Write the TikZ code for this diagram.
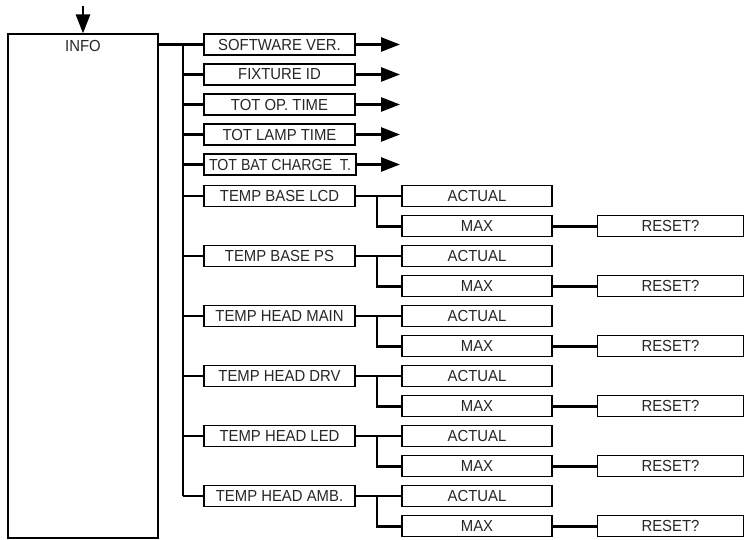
\documentclass[tikz,border=0pt]{standalone}
\usepackage{fontspec}
\setmainfont[FakeStretch=0.93]{Liberation Sans}
\newfontfamily\narrowfont[FakeStretch=0.885]{Liberation Sans}
\usetikzlibrary{arrows.meta}
\begin{document}
\begin{tikzpicture}[x=1pt,y=-1pt,
  box/.style={draw, line width=1.1pt, minimum width=151pt, minimum height=21pt, inner sep=0pt,
    font=\fontsize{16}{16}\selectfont, text=black!85},
  rbox/.style={box, minimum width=146pt},
  conn/.style={line width=2.6pt},
  arr/.style={line width=2.6pt, -{Triangle[length=19pt,width=14pt]}}]
\useasboundingbox (0,0) rectangle (744,540);
% INFO box
\node[draw, line width=1.1pt, minimum width=150pt, minimum height=504pt, inner sep=0pt] (info) at (83,286) {};
\node[font=\fontsize{16}{16}\selectfont, text=black!85, inner sep=0pt] (infolabel) at (83,45.5) {INFO};
\coordinate (top) at (83,6);
\draw[arr] (top) -- (info.north);
% helper coordinates
\coordinate (tr) at (183,0);
\coordinate (tipx) at (400,0);
\coordinate (br) at (377,0);
% simple items
\foreach \n/\y/\t in {s1/44.5/SOFTWARE VER., s2/74.5/FIXTURE ID, s3/104.5/TOT OP. TIME, s4/134.5/TOT LAMP TIME}{
  \node[box] (\n) at (279.5,\y) {\t};
  \draw[arr] (\n.east) -- (\n.east -| tipx);
}
\node[box, minimum width=152pt, font=\narrowfont\fontsize{16}{16}\selectfont] (s5) at (280,164.5) {TOT BAT CHARGE\ \ T.};
\draw[arr] (s5.east) -- (s5.east -| tipx);
% groups
\foreach \n/\y/\t in {g1/196/TEMP BASE LCD, g2/256/TEMP BASE PS, g3/316/TEMP HEAD MAIN, g4/376/TEMP HEAD DRV, g5/436/TEMP HEAD LED, g6/496/TEMP HEAD AMB.}{
  \node[box] (\n) at (279.5,\y) {\t};
  \node[box, minimum width=150pt] (\n a) at (477,\y) {ACTUAL};
  \node[box, minimum width=150pt] (\n m) at (477,\y+30.3) {MAX};
  \node[rbox] (\n r) at (670.5,\y+30.3) {RESET?};
  \draw[conn] (\n.east) -- (\n a.west);
  \draw[conn] (br |- \n a.west) |- (\n m.west);
  \draw[conn] (\n m.east) -- (\n r.west);
}
% trunk
\draw[conn] (info.north east |- s1.west) -- (s1.west);
\draw[conn] (tr |- s1.west) -- (tr |- g6.west);
\foreach \n in {s2,s3,s4,s5,g1,g2,g3,g4,g5,g6}{
  \draw[conn] (tr |- \n.west) -- (\n.west);
}
\end{tikzpicture}
\end{document}
